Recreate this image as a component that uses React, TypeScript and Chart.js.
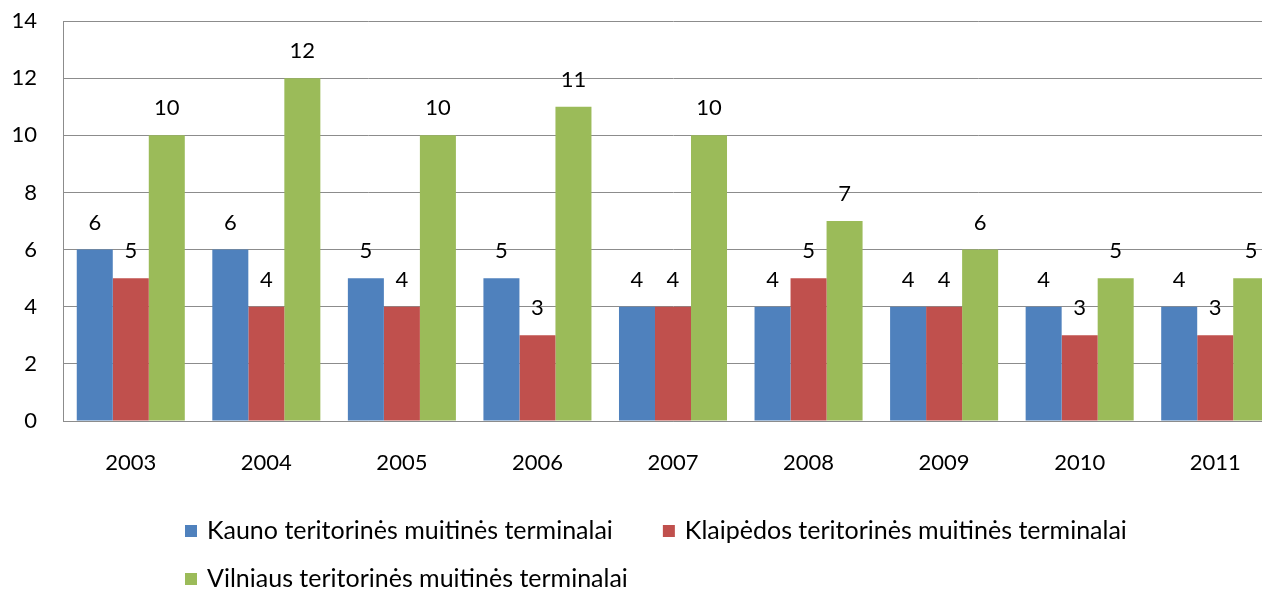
import React, { useEffect, useRef } from "react";
import { Chart, registerables } from "chart.js";

Chart.register(...registerables);

const categories = ["2003", "2004", "2005", "2006", "2007", "2008", "2009", "2010", "2011"];
const kaunoValues = [6, 6, 5, 5, 4, 4, 4, 4, 4];
const klaipedosValues = [5, 4, 4, 3, 4, 5, 4, 3, 3];
const vilniausValues = [10, 12, 10, 11, 10, 7, 6, 5, 5];
const seriesNames = [
  "Kauno teritorinės muitinės terminalai",
  "Klaipėdos teritorinės muitinės terminalai",
  "Vilniaus teritorinės muitinės terminalai",
];
const seriesColors = ["#4F81BD", "#C0504D", "#9BBB59"];
const yTicks = [0, 2, 4, 6, 8, 10, 12, 14];

const FONT = "Lato, 'Open Sans', sans-serif";
const FS = 22;
const LEGEND_FS = 25;

const valueLabels = {
  id: "valueLabels",
  afterDatasetsDraw(chart: any) {
    const ctx = chart.ctx;
    ctx.save();
    ctx.font = `${FS}px ${FONT}`;
    ctx.fillStyle = "#000";
    ctx.textAlign = "center";
    ctx.textBaseline = "middle";
    chart.data.datasets.forEach((ds: any, i: number) => {
      const meta = chart.getDatasetMeta(i);
      meta.data.forEach((bar: any, j: number) => {
        ctx.fillText(String(ds.data[j]), bar.x, bar.y - 27);
      });
    });
    ctx.restore();
  },
};

const customLegend = {
  id: "customLegend",
  afterDraw(chart: any) {
    const ctx = chart.ctx;
    ctx.save();
    ctx.font = `${LEGEND_FS}px ${FONT}`;
    ctx.textBaseline = "middle";
    ctx.textAlign = "left";
    const rows = [[0, 1], [2]];
    const rowY = [531, 579];
    const startX = 185;
    const box = 12;
    rows.forEach((row, r) => {
      let x = startX;
      row.forEach((idx) => {
        const ds = chart.data.datasets[idx];
        ctx.fillStyle = ds.backgroundColor;
        ctx.fillRect(x, rowY[r] - box / 2, box, box);
        ctx.fillStyle = "#000";
        const tx = x + box + 10;
        ctx.fillText(ds.label, tx, rowY[r]);
        x = tx + ctx.measureText(ds.label).width + 50;
      });
    });
    ctx.restore();
  },
};

export default function App() {
  const ref = useRef<HTMLCanvasElement>(null);
  useEffect(() => {
    if (!ref.current) return;
    const chart = new Chart(ref.current, {
      type: "bar",
      data: {
        labels: categories,
        datasets: [
          { label: seriesNames[0], data: kaunoValues, backgroundColor: seriesColors[0] },
          { label: seriesNames[1], data: klaipedosValues, backgroundColor: seriesColors[1] },
          { label: seriesNames[2], data: vilniausValues, backgroundColor: seriesColors[2] },
        ],
      },
      options: {
        responsive: false,
        animation: false,
        layout: { padding: { left: 0, right: 17, top: 21, bottom: 0 } },
        datasets: { bar: { categoryPercentage: 0.797, barPercentage: 1 } },
        plugins: { legend: { display: false }, tooltip: { enabled: false } },
        scales: {
          x: {
            grid: { display: false, drawTicks: false },
            border: { display: true, color: "#8C8C8C", width: 1 },
            ticks: { font: { family: FONT, size: FS }, color: "#000", padding: 29 },
            afterFit: (s: any) => { s.height = 171; s.paddingLeft = 0; s.paddingRight = 0; },
          },
          y: {
            min: 0,
            max: 14,
            afterBuildTicks: (s: any) => { s.ticks = yTicks.map((v) => ({ value: v })); },
            grid: { color: "#8C8C8C", drawTicks: false },
            border: { display: true, color: "#8C8C8C", width: 1 },
            ticks: { font: { family: FONT, size: FS }, color: "#000", padding: 26 },
            afterFit: (s: any) => { s.width = 63; s.paddingTop = 0; s.paddingBottom = 0; },
          },
        },
      },
      plugins: [valueLabels, customLegend],
    });
    return () => chart.destroy();
  }, []);
  return (
    <div style={{ position: "absolute", left: 0, top: 0, width: 1273, height: 592, overflow: "hidden", background: "#fff" }}>
      <div style={{ width: 1262, height: 592, overflow: "hidden" }}>
        <canvas ref={ref} width={1300} height={592} style={{ width: 1300, height: 592, display: "block" }} />
      </div>
    </div>
  );
}
